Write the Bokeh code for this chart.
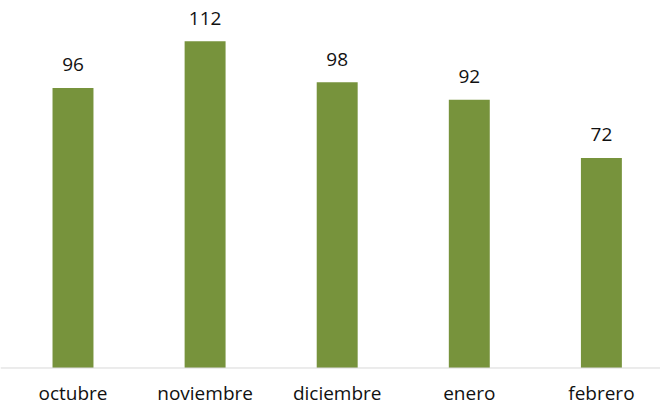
from bokeh.plotting import figure
from bokeh.models import Range1d, ColumnDataSource, Span
from bokeh.core.properties import value
from bokeh.embed import file_html
from bokeh.resources import INLINE

months = ["octubre", "noviembre", "diciembre", "enero", "febrero"]
counts = [96, 112, 98, 92, 72]

idx = list(range(len(months)))
src = ColumnDataSource(dict(x=idx, y=counts, zero=[0] * len(idx),
                            lbl=[str(c) for c in counts], cat=months))

p = figure(width=660, height=405, output_backend="svg", toolbar_location=None,
           x_range=Range1d(-0.5488, 4.4474), y_range=Range1d(-12.86, 126.0),
           min_border=0)
p.outline_line_color = None
p.grid.visible = False
p.axis.visible = False
p.background_fill_color = "white"
p.border_fill_color = "white"

p.add_layout(Span(location=0, dimension="width", line_color="#D9D9D9", line_width=1))

p.vbar(x="x", top="y", bottom=0, width=0.31, source=src, fill_color="#77933C", line_color=None)
p.text(x="x", y="y", text="lbl", source=src, text_align="center", text_baseline="middle",
       y_offset=-23, text_font=value("Open Sans"), text_font_size="19px", text_color="#111111")
p.text(x="x", y="zero", text="cat", source=src, text_align="center", text_baseline="middle",
       y_offset=25, text_font=value("Open Sans"), text_font_size="19px", text_color="#111111")

open("out.html", "w").write(file_html(p, INLINE))
